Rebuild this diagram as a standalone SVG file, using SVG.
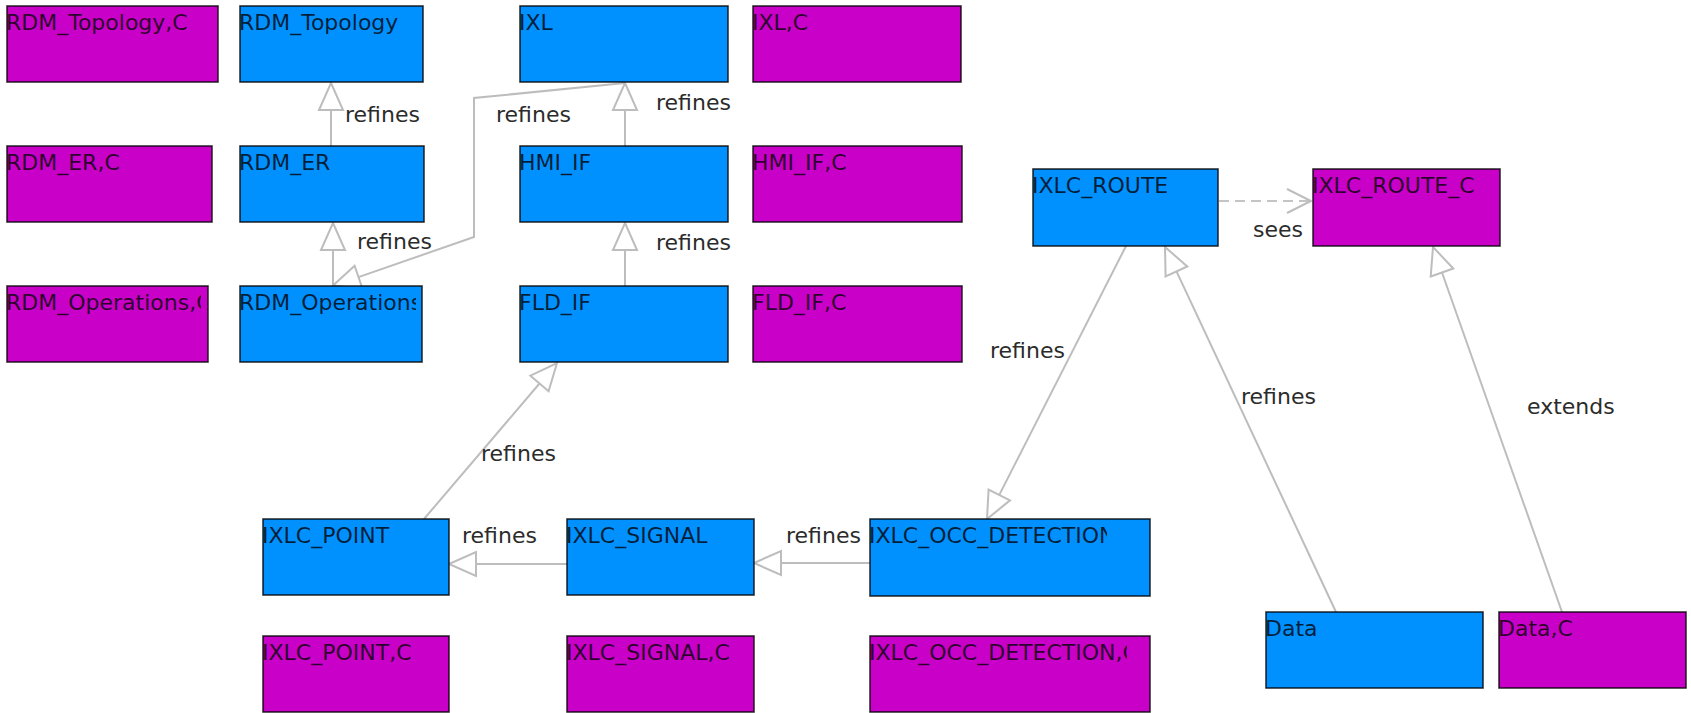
<svg xmlns="http://www.w3.org/2000/svg" width="1691" height="713" viewBox="0 0 1691 713">
  <style>
    .box { stroke: #000; stroke-opacity: 0.8; stroke-width: 1.6; }
    .m { fill: #c800c8; }
    .b { fill: #0091fe; }
    .name { font-family: "DejaVu Sans", "Liberation Sans", sans-serif; font-size: 22px; fill: #000; fill-opacity: 0.78; }
    .edge { fill: none; stroke: #bdbdbd; stroke-width: 2; }
    .head { fill: #fff; stroke: #bdbdbd; stroke-width: 2; stroke-linejoin: miter; }
    .dash { fill: none; stroke: #c4c4c4; stroke-width: 2; stroke-dasharray: 10 6; }
    .lbl { font-family: "DejaVu Sans", "Liberation Sans", sans-serif; font-size: 22px; fill: #2b2b2b; }
  </style>
  <defs>
    <clipPath id="c-rtc"><rect x="7" y="6" width="211" height="76"/></clipPath>
    <clipPath id="c-rt"><rect x="240" y="6" width="183" height="76"/></clipPath>
    <clipPath id="c-rec"><rect x="7" y="146" width="205" height="76"/></clipPath>
    <clipPath id="c-re"><rect x="240" y="146" width="184" height="76"/></clipPath>
    <clipPath id="c-roc"><rect x="6" y="286" width="195" height="76"/></clipPath>
    <clipPath id="c-ro"><rect x="238" y="286" width="178" height="76"/></clipPath>
    <clipPath id="c-occ"><rect x="868" y="519" width="239" height="77"/></clipPath>
    <clipPath id="c-occc"><rect x="868" y="636" width="259" height="77"/></clipPath>
  </defs>

  <rect width="1691" height="713" fill="#fff"/>

  <!-- connectors: drawn first so the boxes sit on top of them -->
  <g id="connectors">
    <!-- RDM_ER refines RDM_Topology -->
    <line class="edge" x1="331" y1="146" x2="331" y2="110"/>
    <polygon class="head" points="331,83 343,110 319,110"/>
    <text class="lbl" x="345" y="122">refines</text>

    <!-- RDM_Operations refines RDM_ER -->
    <line class="edge" x1="333" y1="286" x2="333" y2="250"/>
    <polygon class="head" points="333,223 345,250 321,250"/>
    <text class="lbl" x="357" y="249">refines</text>

    <!-- IXL to RDM_Operations -->
    <polyline class="edge" points="625,83 474,98 474,237 358.5,277.1"/>
    <polygon class="head" points="333,285.5 354.6,265.8 362.4,288.5"/>
    <text class="lbl" x="496" y="122">refines</text>

    <!-- HMI_IF refines IXL -->
    <line class="edge" x1="625" y1="146" x2="625" y2="110"/>
    <polygon class="head" points="625,83 637,110 613,110"/>
    <text class="lbl" x="656" y="110">refines</text>

    <!-- FLD_IF refines HMI_IF -->
    <line class="edge" x1="625" y1="286" x2="625" y2="250"/>
    <polygon class="head" points="625,223 637,250 613,250"/>
    <text class="lbl" x="656" y="250">refines</text>

    <!-- IXLC_POINT refines FLD_IF -->
    <line class="edge" x1="424" y1="519" x2="539.5" y2="383.5"/>
    <polygon class="head" points="557,363 548.6,391.3 530.4,375.7"/>
    <text class="lbl" x="481" y="461">refines</text>

    <!-- IXLC_SIGNAL refines IXLC_POINT -->
    <line class="edge" x1="567" y1="564" x2="476" y2="564"/>
    <polygon class="head" points="449,564 476,552 476,576"/>
    <text class="lbl" x="462" y="543">refines</text>

    <!-- IXLC_OCC_DETECTION refines IXLC_SIGNAL -->
    <line class="edge" x1="870" y1="563" x2="781" y2="563"/>
    <polygon class="head" points="754,563 781,551 781,575"/>
    <text class="lbl" x="786" y="543">refines</text>

    <!-- IXLC_ROUTE to IXLC_OCC_DETECTION -->
    <line class="edge" x1="1126" y1="246" x2="999.3" y2="494.9"/>
    <polygon class="head" points="987,519 988.6,489.5 1010,500.4"/>
    <text class="lbl" x="990" y="358">refines</text>

    <!-- Data refines IXLC_ROUTE -->
    <line class="edge" x1="1336" y1="612" x2="1176.5" y2="271.4"/>
    <polygon class="head" points="1165,247 1187.3,266.4 1165.6,276.5"/>
    <text class="lbl" x="1241" y="404">refines</text>

    <!-- Data,C extends IXLC_ROUTE_C -->
    <line class="edge" x1="1562" y1="612" x2="1442" y2="272.5"/>
    <polygon class="head" points="1433,247 1453.3,268.5 1430.7,276.5"/>
    <text class="lbl" x="1527" y="414">extends</text>

    <!-- IXLC_ROUTE sees IXLC_ROUTE_C -->
    <line class="dash" x1="1219" y1="201" x2="1310" y2="201"/>
    <polyline class="edge" points="1287,189 1311,201 1287,213"/>
    <text class="lbl" x="1253" y="237">sees</text>
  </g>

  <!-- machine / context nodes -->
  <g id="RDM_Topology_C">
    <rect class="box m" x="7" y="6" width="211" height="76"/>
    <text class="name" x="6" y="29.5" clip-path="url(#c-rtc)">RDM_Topology,C</text>
  </g>
  <g id="RDM_Topology">
    <rect class="box b" x="240" y="6" width="183" height="76"/>
    <text class="name" x="239" y="29.5" clip-path="url(#c-rt)">RDM_Topology</text>
  </g>
  <g id="IXL">
    <rect class="box b" x="520" y="6" width="208" height="76"/>
    <text class="name" x="519" y="29.5">IXL</text>
  </g>
  <g id="IXL_C">
    <rect class="box m" x="753" y="6" width="208" height="76"/>
    <text class="name" x="752" y="29.5">IXL,C</text>
  </g>

  <g id="RDM_ER_C">
    <rect class="box m" x="7" y="146" width="205" height="76"/>
    <text class="name" x="6" y="169.5" clip-path="url(#c-rec)">RDM_ER,C</text>
  </g>
  <g id="RDM_ER">
    <rect class="box b" x="240" y="146" width="184" height="76"/>
    <text class="name" x="239" y="169.5" clip-path="url(#c-re)">RDM_ER</text>
  </g>
  <g id="HMI_IF">
    <rect class="box b" x="520" y="146" width="208" height="76"/>
    <text class="name" x="519" y="169.5">HMI_IF</text>
  </g>
  <g id="HMI_IF_C">
    <rect class="box m" x="753" y="146" width="209" height="76"/>
    <text class="name" x="752" y="169.5">HMI_IF,C</text>
  </g>

  <g id="RDM_Operations_C">
    <rect class="box m" x="7" y="286" width="201" height="76"/>
    <text class="name" x="6" y="309.5" clip-path="url(#c-roc)">RDM_Operations,C</text>
  </g>
  <g id="RDM_Operations">
    <rect class="box b" x="240" y="286" width="182" height="76"/>
    <text class="name" x="239" y="309.5" clip-path="url(#c-ro)">RDM_Operations</text>
  </g>
  <g id="FLD_IF">
    <rect class="box b" x="520" y="286" width="208" height="76"/>
    <text class="name" x="519" y="309.5">FLD_IF</text>
  </g>
  <g id="FLD_IF_C">
    <rect class="box m" x="753" y="286" width="209" height="76"/>
    <text class="name" x="752" y="309.5">FLD_IF,C</text>
  </g>

  <g id="IXLC_ROUTE">
    <rect class="box b" x="1033" y="169" width="185" height="77"/>
    <text class="name" x="1032" y="192.5">IXLC_ROUTE</text>
  </g>
  <g id="IXLC_ROUTE_C">
    <rect class="box m" x="1313" y="169" width="187" height="77"/>
    <text class="name" x="1312" y="192.5">IXLC_ROUTE_C</text>
  </g>

  <g id="IXLC_POINT">
    <rect class="box b" x="263" y="519" width="186" height="76"/>
    <text class="name" x="262" y="542.5">IXLC_POINT</text>
  </g>
  <g id="IXLC_SIGNAL">
    <rect class="box b" x="567" y="519" width="187" height="76"/>
    <text class="name" x="566" y="542.5">IXLC_SIGNAL</text>
  </g>
  <g id="IXLC_OCC_DETECTION">
    <rect class="box b" x="870" y="519" width="280" height="77"/>
    <text class="name" x="869" y="542.5" clip-path="url(#c-occ)">IXLC_OCC_DETECTION</text>
  </g>

  <g id="IXLC_POINT_C">
    <rect class="box m" x="263" y="636" width="186" height="76"/>
    <text class="name" x="262" y="659.5">IXLC_POINT,C</text>
  </g>
  <g id="IXLC_SIGNAL_C">
    <rect class="box m" x="567" y="636" width="187" height="76"/>
    <text class="name" x="566" y="659.5">IXLC_SIGNAL,C</text>
  </g>
  <g id="IXLC_OCC_DETECTION_C">
    <rect class="box m" x="870" y="636" width="280" height="76"/>
    <text class="name" x="869" y="659.5" clip-path="url(#c-occc)">IXLC_OCC_DETECTION,C</text>
  </g>

  <g id="Data">
    <rect class="box b" x="1266" y="612" width="217" height="76"/>
    <text class="name" x="1265" y="635.5">Data</text>
  </g>
  <g id="Data_C">
    <rect class="box m" x="1499" y="612" width="187" height="76"/>
    <text class="name" x="1498" y="635.5">Data,C</text>
  </g>
</svg>
